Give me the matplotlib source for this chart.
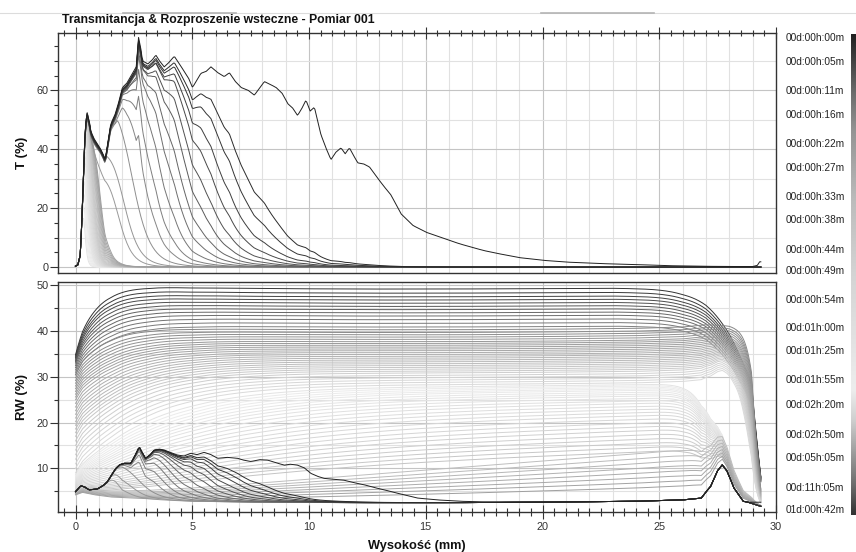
import numpy as np
import matplotlib
matplotlib.use("Agg")
import matplotlib.pyplot as plt
from matplotlib.colors import LinearSegmentedColormap
from matplotlib.lines import Line2D
from matplotlib.ticker import MultipleLocator, FixedLocator

plt.rcParams['font.family'] = ['Liberation Sans', 'DejaVu Sans']

# ---------------- texts ----------------
title = "Transmitancja & Rozproszenie wsteczne - Pomiar 001"
x_label = "Wysokość (mm)"
t_label = "T (%)"
rw_label = "RW (%)"
x_ticks = [0, 5, 10, 15, 20, 25, 30]
t_ticks = [0, 20, 40, 60]
rw_ticks = [10, 20, 30, 40, 50]
time_labels = ["00d:00h:00m", "00d:00h:05m", "00d:00h:11m", "00d:00h:16m",
               "00d:00h:22m", "00d:00h:27m", "00d:00h:33m", "00d:00h:38m",
               "00d:00h:44m", "00d:00h:49m", "00d:00h:54m", "00d:01h:00m",
               "00d:01h:25m", "00d:01h:55m", "00d:02h:20m", "00d:02h:50m",
               "00d:05h:05m", "00d:11h:05m", "01d:00h:42m"]

# ---------------- data ----------------
# first scan, transmission (mm, %)
t_env_x = [0.0, 0.1, 0.2, 0.23, 0.3, 0.4, 0.48, 0.6, 0.66, 0.8, 1.0, 1.08, 1.2, 1.27,
           1.4, 1.51, 1.7, 1.85, 2.01, 2.2, 2.44, 2.6, 2.70, 2.8, 2.87, 3.1, 3.3, 3.44,
           3.6, 3.80, 4.0, 4.23, 4.45, 4.66, 4.85, 5.01, 5.2, 5.37, 5.6, 5.80, 6.1,
           6.37, 6.59, 6.85, 7.09, 7.4, 7.66, 7.9, 8.09, 8.35, 8.59, 8.85, 9.09, 9.3,
           9.51, 9.7, 9.87, 10.05, 10.23, 10.51, 10.75, 10.94, 11.15, 11.37, 11.55,
           11.73, 11.9, 12.09, 12.35, 12.59, 12.94, 13.2, 13.51, 13.94, 14.46, 15.03,
           15.5, 16.03, 16.5, 17.03, 17.5, 18.03, 19.03, 20.03, 21.03, 22.46, 23.89,
           25.3, 26.7, 28.0, 29.0, 29.2, 29.3]
t_env_y = [0.3, 0.8, 4.0, 8.0, 22.0, 44.0, 53.0, 49.0, 46.0, 43.5, 41.0, 40.0, 38.0, 36.5,
           43.0, 48.6, 52.0, 56.0, 61.0, 62.5, 65.8, 68.0, 78.0, 74.0, 70.0, 69.0, 70.5,
           72.0, 70.0, 68.0, 69.5, 71.6, 69.0, 66.4, 64.0, 61.0, 63.5, 65.8, 66.5, 68.0,
           66.0, 64.7, 66.0, 63.0, 61.0, 60.0, 58.4, 61.0, 63.0, 62.0, 61.0, 59.0, 55.5,
           54.0, 51.5, 54.0, 56.7, 53.0, 54.3, 45.0, 40.0, 36.5, 39.0, 40.5, 38.5, 40.5,
           38.0, 35.4, 35.0, 34.0, 30.2, 27.5, 24.5, 18.1, 14.1, 11.8, 10.5, 9.0, 7.8,
           6.6, 5.6, 4.7, 3.2, 2.3, 1.7, 1.2, 0.9, 0.5, 0.3, 0.2, 0.2, 0.6, 1.8]

# first scan, backscattering bump (mm, %)
rw_env_x = [0.0, 0.23, 0.4, 0.58, 0.94, 1.2, 1.37, 1.55, 1.73, 1.9, 2.09, 2.37, 2.55,
            2.73, 2.85, 3.0, 3.2, 3.37, 3.6, 3.8, 4.1, 4.37, 4.65, 4.94, 5.2, 5.51, 5.8,
            6.09, 6.5, 6.94, 7.2, 7.51, 7.9, 8.23, 8.6, 8.94, 9.2, 9.51, 9.8, 10.08,
            10.4, 10.66, 11.1, 11.51, 11.9, 12.37, 12.8, 13.23, 13.6, 14.08, 14.66,
            15.5, 16.5, 18.0]
rw_env_y = [4.9, 6.2, 5.9, 5.3, 5.5, 6.3, 7.1, 8.6, 10.0, 10.8, 11.1, 11.1, 12.8, 14.7,
            13.5, 12.2, 13.0, 14.0, 14.2, 14.0, 13.4, 12.9, 12.7, 13.3, 13.0, 13.5, 13.0,
            12.2, 12.4, 12.2, 11.8, 11.5, 11.9, 11.8, 11.2, 10.7, 10.9, 10.7, 10.1, 8.9,
            8.2, 7.8, 7.6, 7.4, 6.9, 6.4, 5.8, 5.3, 4.8, 4.2, 3.5, 3.1, 2.8, 2.6]

# lowest backscattering level and the peak near 27.7 mm
rw_floor_x = [0.0, 0.3, 0.8, 1.5, 3.0, 5.0, 8.0, 12.0, 16.0, 20.0, 24.0, 26.0, 27.0,
              28.0, 28.8, 29.35]
rw_floor_y = [4.5, 5.0, 4.4, 3.8, 3.2, 2.8, 2.6, 2.5, 2.5, 2.6, 2.8, 3.1, 3.6, 3.4,
              2.6, 1.7]
peak_x = [26.8, 27.2, 27.5, 27.7, 27.9, 28.2, 28.6]
peak_y = [0.0, 2.5, 6.0, 7.3, 6.0, 2.5, 0.0]

inf = np.inf
# group A: early scans with clear zone (front positions, mm)
A_t_front = [inf, 7.4, 6.8, 6.2, 5.7, 5.25, 4.8, 4.4, 4.0, 3.6, 3.2, 2.85, 2.5, 2.15, 1.9]
A_t_cap = [inf, inf, inf, inf, inf, inf, inf, inf, inf, inf, inf, inf, 55, 39, 31]
A_t_scale = [1.0, 0.99, 0.985, 0.98, 0.99, 0.975, 0.985, 0.97, 0.98, 0.975, 0.97, 0.965,
             1.0, 1.0, 1.0]
A_rw_front = [inf, 7.6, 7.1, 6.6, 6.1, 5.65, 5.2, 4.75, 4.3, 3.9, 3.5, 3.1, 2.75, 2.4, 2.1]
A_rw_cap = [inf, inf, inf, inf, inf, inf, inf, inf, inf, inf, inf, inf, 11, 8.5, 6.5]

# group B: slowly rising backscattering
B_t_front = [1.12, 1.09, 1.06, 1.03, 1.00, 0.97, 0.94, 0.91]
B_rw_level = [12, 15, 18, 21, 24, 27, 30, 33]
B_rw_rise = [60, 60, 60, 60, 60, 60, 60, 60]
B_rw_start = [4.2, 4.3, 4.4, 4.5, 4.6, 4.7, 4.8, 5.0]

# group C: light curves
C_t_front = [0.88, 0.85, 0.82, 0.80, 0.78, 0.76, 0.74, 0.72, 0.70, 0.68, 0.66, 0.64,
             0.62, 0.60, 0.58, 0.56, 0.54, 0.52, 0.50, 0.47, 0.44, 0.41, 0.38, 0.35]
C_rw_level = [15.0, 15.8, 16.6, 17.4, 18.2, 19.0, 19.7, 20.4, 21.1, 21.8, 22.4, 23.0,
              23.6, 24.2, 24.7, 25.2, 25.7, 26.1, 26.5, 26.9, 27.2, 27.5, 27.8, 28.1]
C_rw_rise = [12, 11.3, 10.6, 10, 9.4, 8.8, 8.3, 7.8, 7.3, 6.9, 6.5, 6.1, 5.8, 5.5, 5.2,
             4.9, 4.7, 4.5, 4.3, 4.1, 3.9, 3.7, 3.5, 3.3]
C_rw_start = [4.5, 4.6, 4.7, 4.8, 4.9, 5.0, 5.2, 5.4, 5.6, 5.8, 6.0, 6.2, 6.4, 6.6, 6.8,
              7.0, 7.2, 7.4, 7.6, 7.8, 8.0, 8.2, 8.4, 8.6]

# group D: gray curves
D_rw_level = [28.5, 29.0, 29.5, 30.0, 30.5, 31.0, 31.4, 31.8, 32.2, 32.6, 33.0, 33.4,
              33.8, 34.2, 34.6, 35.0, 35.4, 35.8, 36.2, 36.6, 37.0, 37.4, 37.8, 38.3,
              38.8, 39.3, 39.8, 40.4]
D_rw_rise = [3.0, 2.9, 2.8, 2.7, 2.6, 2.5, 2.4, 2.35, 2.3, 2.25, 2.2, 2.15, 2.1, 2.05,
             2.0, 1.95, 1.9, 1.85, 1.8, 1.75, 1.7, 1.65, 1.6, 1.55, 1.5, 1.45, 1.4, 1.3]
D_rw_start = [9, 10, 11, 12, 13, 14, 15, 16, 17, 17.8, 18.6, 19.4, 20.2, 21, 21.8, 22.6,
              23.4, 24.2, 25, 25.6, 26.2, 26.8, 27.4, 28, 28.6, 29.2, 29.8, 30.4]

# group E: last (dark) curves
E_rw_level = [41.0, 41.8, 42.6, 43.4, 44.1, 44.8, 45.5, 46.2, 46.9, 47.6, 48.4, 49.3]
E_rw_rise = [1.4, 1.35, 1.3, 1.25, 1.2, 1.15, 1.1, 1.05, 1.0, 0.98, 0.95, 0.92]
E_rw_start = [30.5, 31, 31.5, 32, 32.5, 33, 33.3, 33.6, 33.9, 34.2, 34.5, 34.8]

# colour bar grey stops (position from top, grey level)
bar_pos = [0.0, 0.05, 0.12, 0.2, 0.35, 0.5, 0.62, 0.74, 0.8, 0.87, 0.94, 1.0]
bar_gray = [0.13, 0.25, 0.42, 0.58, 0.74, 0.83, 0.88, 0.93, 0.82, 0.62, 0.42, 0.2]

# ---------------- build curves ----------------
x_mm = np.round(np.arange(0.0, 29.351, 0.05), 3)
T_env = np.interp(x_mm, t_env_x, t_env_y)
RW_env = np.interp(x_mm, rw_env_x, rw_env_y)
floor = np.interp(x_mm, rw_floor_x, rw_floor_y)
peak = np.interp(x_mm, peak_x, peak_y)
taper = np.interp(x_mm, [28.95, 29.35], [1.0, 0.3])


def front_factor(f, p=7.0):
    if not np.isfinite(f):
        return np.ones_like(x_mm)
    if f <= 0:
        return np.zeros_like(x_mm)
    return 1.0 / (1.0 + (x_mm / f) ** p)


def capped(env, cap, x0, x1):
    w = np.clip((x_mm - x0) / (x1 - x0), 0, 1)
    return env * (1 - w) + np.minimum(env, cap) * w


def plateau(level, rise, start, xc, wd, pk):
    e = np.exp(-x_mm / rise)
    part = (level - 2.6) * (1 - e) + (start - 4.5) * e
    R = 1.0 / (1.0 + np.exp((x_mm - xc) / wd)) * taper
    return floor + part * R + pk * peak


T_curves, RW_curves, pos = [], [], []

nA = len(A_t_front)
for i in range(nA):
    tt = A_t_scale[i] * capped(T_env, A_t_cap[i], 0.55, 1.25) * front_factor(A_t_front[i])
    ex = np.maximum(capped(RW_env, A_rw_cap[i], 1.3, 2.0) - floor, 0) * front_factor(A_rw_front[i])
    T_curves.append(tt)
    RW_curves.append(floor + peak + ex)
pos += list(np.linspace(0.0, 0.22, nA))

for i in range(len(B_t_front)):
    T_curves.append(T_env * front_factor(B_t_front[i]))
    RW_curves.append(plateau(B_rw_level[i], B_rw_rise[i], B_rw_start[i], 27.9, 0.5, 0.9))
pos += list(np.linspace(0.24, 0.36, len(B_t_front)))

for i in range(len(C_t_front)):
    T_curves.append(T_env * front_factor(C_t_front[i]))
    RW_curves.append(plateau(C_rw_level[i], C_rw_rise[i], C_rw_start[i], 27.4, 0.45, 0.7))
pos += list(np.linspace(0.4, 0.76, len(C_t_front)))

nD = len(D_rw_level)
D_xc = np.linspace(28.85, 29.2, nD)
D_pk = np.linspace(0.3, 0.0, nD)
for i in range(nD):
    T_curves.append(np.zeros_like(x_mm))
    RW_curves.append(plateau(D_rw_level[i], D_rw_rise[i], D_rw_start[i], D_xc[i], 0.22, D_pk[i]))
pos += list(np.linspace(0.78, 0.9, nD))

for i in range(len(E_rw_level)):
    T_curves.append(np.zeros_like(x_mm))
    RW_curves.append(plateau(E_rw_level[i], E_rw_rise[i], E_rw_start[i], 29.2, 1.0, 0.0))
pos += list(np.linspace(0.91, 1.0, len(E_rw_level)))

cmap = LinearSegmentedColormap.from_list(
    "bar", list(zip(bar_pos, [(g, g, g) for g in bar_gray])))

# ---------------- figure ----------------
W, H = 856, 552
fig = plt.figure(figsize=(W / 100, H / 100), dpi=100)
L, R = 58, 776
ax_t = fig.add_axes([L / W, 1 - 273 / H, (R - L) / W, (273 - 33) / H])
ax_r = fig.add_axes([L / W, 1 - 512 / H, (R - L) / W, (512 - 282) / H])

spine_c = "#333333"
for ax in (ax_t, ax_r):
    ax.set_xlim(-0.75, 30)
    for xv in range(0, 30):
        ax.axvline(xv, color="#c4c4c4" if xv % 5 == 0 else "#e1e1e1", lw=0.8, zorder=0)
    for s in ax.spines.values():
        s.set_color(spine_c)
        s.set_linewidth(1.0)
    ax.xaxis.set_major_locator(FixedLocator(x_ticks))
    ax.xaxis.set_minor_locator(MultipleLocator(0.5))
    ax.tick_params(axis="y", which="both", direction="out", colors=spine_c,
                   labelsize=7.8, labelcolor="#333333", pad=1)
    ax.tick_params(axis="y", which="major", length=6, width=0.8)
    ax.tick_params(axis="y", which="minor", length=3, width=0.8)

ax_t.set_ylim(-2, 79.5)
ax_t.yaxis.set_major_locator(FixedLocator(t_ticks))
ax_t.yaxis.set_minor_locator(MultipleLocator(5))
for yv in range(0, 80, 10):
    ax_t.axhline(yv, color="#c4c4c4" if yv % 20 == 0 else "#e1e1e1", lw=0.8, zorder=0)
ax_t.xaxis.set_ticks_position("top")
ax_t.tick_params(axis="x", which="both", direction="inout", colors=spine_c,
                 labeltop=False, labelbottom=False)
ax_t.tick_params(axis="x", which="major", length=9, width=0.8)
ax_t.tick_params(axis="x", which="minor", length=5, width=0.8)

ax_r.set_ylim(0.46, 50.74)
ax_r.yaxis.set_major_locator(FixedLocator(rw_ticks))
ax_r.yaxis.set_minor_locator(MultipleLocator(5))
for yv in range(5, 51, 5):
    ax_r.axhline(yv, color="#c4c4c4" if yv % 10 == 0 else "#e1e1e1", lw=0.8, zorder=0)
ax_r.xaxis.set_ticks_position("bottom")
ax_r.tick_params(axis="x", which="both", direction="inout", colors=spine_c,
                 labelsize=7.8, labelcolor="#333333", pad=2)
ax_r.tick_params(axis="x", which="major", length=10, width=0.8)
ax_r.tick_params(axis="x", which="minor", length=6, width=0.8)

N = len(T_curves)
for i in reversed(range(N)):
    c = cmap(pos[i])
    ax_t.plot(x_mm, T_curves[i], color=c, lw=0.7, zorder=2)
    ax_r.plot(x_mm, RW_curves[i], color=c, lw=0.7, zorder=2)

# texts
fig.text(62 / W, 1 - 20 / H, title, fontsize=8.8, fontweight="bold", color="#111111",
         ha="left", va="center")
fig.text(22 / W, 1 - 153 / H, t_label, fontsize=9.5, fontweight="bold", rotation=90,
         ha="center", va="center", color="#111111")
fig.text(22 / W, 1 - 397 / H, rw_label, fontsize=9.5, fontweight="bold", rotation=90,
         ha="center", va="center", color="#111111")
fig.text(417 / W, 1 - 546 / H, x_label, fontsize=9.2, fontweight="bold",
         ha="center", va="center", color="#111111")

label_y = [38, 62, 91, 115, 144, 168, 197, 220, 250, 271, 300, 328, 351, 380, 405,
           435, 458, 488, 510]
for lab, yy in zip(time_labels, label_y):
    fig.text(786 / W, 1 - yy / H, lab, fontsize=7.3, color="#222222",
             ha="left", va="center")

# colour bar
ax_cb = fig.add_axes([851 / W, 1 - 515 / H, 10 / W, 481 / H])
ax_cb.imshow(np.linspace(0, 1, 256)[:, None], aspect="auto", cmap=cmap,
             interpolation="bilinear")
ax_cb.set_axis_off()

# thin top decoration
fig.add_artist(Line2D([0, 1], [1 - 12.5 / H] * 2, color="#dcdcdc", lw=0.8))
fig.add_artist(Line2D([123 / W, 236 / W], [1 - 12.5 / H] * 2, color="#b4b4b4", lw=1.2))
fig.add_artist(Line2D([541 / W, 654 / W], [1 - 12.5 / H] * 2, color="#b4b4b4", lw=1.2))

fig.savefig("out.png", dpi=100)
